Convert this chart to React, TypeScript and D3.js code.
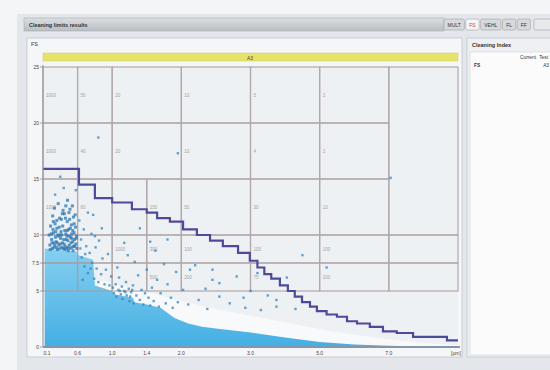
import { useRef, useEffect } from 'react';
import * as d3 from 'd3';

// x is drawn on a class position axis; labels are the size class bounds
const xTickPos = [0, 1, 2, 3, 4, 6, 8, 10];
const xTickLabels = ['0.1', '0.6', '1.0', '1.4', '2.0', '3.0', '5.0', '7.0'];
const yTicks = [0, 5, 7.5, 10, 15, 20, 25];
const yTickLabels = ['0', '5', '7.5', '10', '15', '20', '25'];

// limit grid: value bands and their class boundaries
const bandLow = [20, 15, 10, 7.5, 5];
const bandHigh = [25, 20, 15, 10, 7.5];
const bandCols = [
  [0, 1, 2, 4, 6, 8, 10],
  [0, 1, 2, 4, 6, 8, 10],
  [0, 1, 2, 3, 4, 6, 8, 10],
  [0, 1, 2, 3, 4, 6, 8, 10, 12],
  [0, 1, 2, 3, 4, 6, 8, 10, 12],
];
const bandLabels = [
  ['1000', '50', '20', '10', '5', '2'],
  ['1000', '40', '20', '10', '4', '2'],
  ['1000', '60', '', '150', '50', '30', '10'],
  ['', '', '1000', '300', '100', '100', '100', ''],
  ['', '', '', '500', '200', '75', '200', ''],
];

// stepped limit curve (class position, value)
const limitU = [0, 1.04, 1.5, 2.0, 2.57, 3.0, 3.3, 3.67, 4.05, 4.45, 4.83, 5.2, 5.64, 5.98, 6.2, 6.4, 6.6, 6.85, 7.08, 7.28, 7.49, 7.72, 7.92, 8.2, 8.5, 8.79, 9.08, 9.45, 9.83, 10.23, 10.7, 11.68, 12.0];
const limitV = [15.9, 14.5, 13.3, 12.9, 12.3, 12.0, 11.5, 11.2, 10.5, 10.0, 9.5, 9.0, 8.4, 7.7, 7.1, 6.5, 6.1, 5.5, 5.0, 4.5, 4.0, 3.6, 3.2, 2.9, 2.7, 2.3, 2.1, 1.8, 1.4, 1.25, 0.9, 0.6, 0.6];

// envelope of the dense measurement cloud
const fillU = [0.05, 1.0, 1.02, 1.45, 1.5, 2.0, 2.05, 2.6, 2.65, 3.0, 3.4, 3.8, 4.2, 4.6, 5.0, 6.0, 7.0, 8.0, 9.0, 10.0, 11.0, 12.0];
const fillV = [8.8, 8.5, 8.2, 7.8, 5.5, 5.0, 4.7, 4.4, 4.0, 3.8, 3.5, 2.6, 2.1, 1.8, 1.65, 1.3, 0.85, 0.45, 0.22, 0.12, 0.05, 0.02];

// faint halo above the cloud
const hazeU = [1.5, 2.0, 3.0, 4.0, 5.0, 6.0, 7.0, 8.0, 9.0, 10.0, 11.0, 12.0];
const hazeV = [6.0, 5.7, 4.9, 4.1, 3.4, 2.8, 2.2, 1.6, 1.1, 0.7, 0.35, 0.15];

// dense cluster of the smallest particles
const clusterDots: [number, number][] = [
  [0.2, 9.1], [0.25, 9.6], [0.3, 10.2], [0.32, 8.9], [0.35, 11.0], [0.38, 9.4], [0.4, 10.6], [0.42, 8.7],
  [0.45, 9.9], [0.48, 11.5], [0.5, 9.2], [0.52, 10.3], [0.55, 8.9], [0.57, 10.8], [0.6, 9.6], [0.62, 11.9],
  [0.64, 9.0], [0.66, 10.1], [0.68, 8.8], [0.7, 11.2], [0.72, 9.5], [0.74, 10.5], [0.76, 9.1], [0.78, 12.3],
  [0.8, 9.8], [0.82, 10.9], [0.84, 8.9], [0.86, 9.4], [0.88, 11.6], [0.9, 10.2], [0.92, 9.0], [0.94, 10.7],
  [0.96, 9.7], [0.98, 8.8], [0.22, 10.8], [0.28, 11.7], [0.33, 12.4], [0.44, 12.8], [0.58, 12.2], [0.71, 13.1],
  [0.85, 12.6], [0.27, 8.8], [0.36, 9.8], [0.47, 10.7], [0.53, 11.4], [0.63, 10.4], [0.69, 9.9], [0.77, 11.4],
  [0.83, 10.1], [0.93, 11.8], [0.18, 10.0], [0.41, 9.3], [0.59, 8.8], [0.73, 8.6], [0.87, 8.6], [0.97, 9.9],
  [0.31, 9.3], [0.49, 8.8], [0.65, 11.5], [0.79, 10.6],
  [0.21, 8.7], [0.26, 9.3], [0.29, 10.5], [0.34, 9.1], [0.37, 10.3], [0.39, 8.9], [0.43, 10.0], [0.46, 9.1],
  [0.51, 9.7], [0.54, 10.0], [0.56, 9.3], [0.61, 9.2], [0.63, 8.7], [0.67, 9.6], [0.7, 10.4], [0.72, 8.9],
  [0.75, 9.9], [0.78, 8.8], [0.81, 9.3], [0.83, 9.7], [0.86, 10.4], [0.89, 9.0], [0.91, 9.6], [0.95, 9.2],
  [0.24, 10.1], [0.3, 11.2], [0.4, 11.3], [0.5, 10.0], [0.56, 11.9], [0.66, 12.6], [0.75, 12.0], [0.9, 11.0],
];

// scattered larger particles
const dots: [number, number][] = [
  [0.5, 15.2], [0.6, 14.2], [0.35, 13.6], [1.6, 18.7], [3.9, 17.3], [10.05, 15.1], [0.95, 14.0],
  [1.05, 11.3], [1.1, 9.6], [1.12, 8.0], [1.18, 10.5], [1.2, 7.2], [1.25, 9.0], [1.3, 6.6], [1.35, 8.4],
  [1.4, 10.1], [1.42, 7.5], [1.48, 6.1], [1.52, 8.9], [1.55, 7.0], [1.6, 5.8], [1.62, 9.5], [1.68, 6.5],
  [1.72, 7.9], [1.78, 5.6], [1.82, 6.9], [1.88, 8.3], [1.92, 5.5], [1.97, 6.3], [1.15, 6.0], [1.45, 11.8],
  [1.7, 10.6], [1.3, 12.0], [1.08, 8.8], [1.22, 8.3], [1.38, 7.0], [1.5, 9.9],
  [2.02, 5.3], [2.05, 4.8], [2.1, 5.6], [2.12, 4.5], [2.18, 5.1], [2.2, 6.2], [2.25, 4.7], [2.28, 5.4],
  [2.3, 4.3], [2.35, 5.0], [2.4, 5.8], [2.42, 4.6], [2.48, 5.2], [2.5, 4.1], [2.55, 4.9], [2.6, 5.5],
  [2.62, 3.9], [2.7, 4.6], [2.75, 6.4], [2.8, 4.2], [2.85, 5.1], [2.9, 3.8], [2.95, 4.8], [3.0, 6.9],
  [3.05, 4.4], [3.1, 3.7], [3.15, 5.3], [3.2, 4.1], [3.3, 6.0], [3.35, 3.6], [3.4, 4.8], [3.5, 7.4],
  [3.55, 3.9], [3.6, 5.6], [3.7, 4.4], [3.75, 3.5], [3.85, 6.7], [3.9, 4.0], [2.15, 7.1], [2.45, 8.2],
  [2.65, 7.6], [3.25, 8.6], [2.35, 9.3], [3.6, 9.6], [3.1, 9.4], [2.8, 10.6],
  [2.22, 5.0], [2.38, 4.9], [2.52, 4.5], [2.58, 5.1],
  [4.25, 6.9], [4.9, 6.9], [4.9, 6.0], [4.5, 4.2], [5.1, 4.5], [5.8, 4.4], [5.85, 3.5], [6.3, 3.3],
  [6.75, 4.2], [6.75, 3.6], [7.05, 6.2], [5.1, 5.7], [4.2, 3.8], [4.7, 5.2], [5.4, 3.9], [6.0, 5.0],
  [6.5, 4.6], [7.5, 8.2], [8.2, 7.1], [4.4, 7.3], [7.3, 3.4], [5.6, 6.3], [4.05, 5.1], [4.75, 3.4], [6.2, 6.6],
];

const buttons = ['MULT', 'FS', 'VEHL', 'FL', 'FF'];

const FONT = '"Liberation Sans", Arial, sans-serif';

export default function App() {
  const svgRef = useRef<SVGSVGElement>(null);

  useEffect(() => {
    if (!svgRef.current) return;
    const svg = d3.select(svgRef.current);
    svg.selectAll('*').remove();

    const W = 550, H = 370;
    svg.attr('width', W).attr('height', H).style('font-family', FONT);

    const x = d3.scaleLinear().domain([0, 12]).range([43, 458]);
    const y = d3.scaleLinear().domain([0, 25]).range([347, 67]);

    const defs = svg.append('defs');
    const grad = defs.append('linearGradient').attr('id', 'cloud').attr('x1', 0).attr('y1', 0).attr('x2', 0).attr('y2', 1);
    grad.append('stop').attr('offset', '0%').attr('stop-color', '#86cff0');
    grad.append('stop').attr('offset', '100%').attr('stop-color', '#45afe3');
    const bar = defs.append('linearGradient').attr('id', 'bar').attr('x1', 0).attr('y1', 0).attr('x2', 0).attr('y2', 1);
    bar.append('stop').attr('offset', '0%').attr('stop-color', '#dcdee1');
    bar.append('stop').attr('offset', '100%').attr('stop-color', '#b9bdc2');

    // window
    svg.append('rect').attr('width', W).attr('height', H).attr('fill', '#f4f5f7');
    svg.append('rect').attr('x', 17).attr('y', 14).attr('width', W - 17).attr('height', H - 14).attr('fill', '#e3e6ea');

    // title bar
    svg.append('rect').attr('x', 24).attr('y', 18).attr('width', 420).attr('height', 13).attr('fill', 'url(#bar)').attr('stroke', '#a9adb2').attr('stroke-width', 0.6);
    svg.append('text').attr('x', 29).attr('y', 27).attr('font-size', 5.5).attr('font-weight', 'bold').attr('fill', '#333').text('Cleaning limits results');

    let bx = 444;
    buttons.forEach((b, i) => {
      const bw = b.length * 3.6 + 6;
      svg.append('rect').attr('x', bx).attr('y', 19).attr('width', bw).attr('height', 11).attr('rx', 1.5)
        .attr('fill', i === 1 ? '#f6f6f6' : '#d7d9dc').attr('stroke', '#9ea2a7').attr('stroke-width', 0.6);
      svg.append('text').attr('x', bx + bw / 2).attr('y', 27).attr('text-anchor', 'middle').attr('font-size', 5)
        .attr('fill', i === 1 ? '#d9302f' : '#333').text(b);
      bx += bw + 1.5;
    });
    svg.append('rect').attr('x', 534).attr('y', 19).attr('width', 18).attr('height', 11).attr('rx', 1.5)
      .attr('fill', '#e8e9eb').attr('stroke', '#9ea2a7').attr('stroke-width', 0.6);

    // main panel
    svg.append('rect').attr('x', 27).attr('y', 38).attr('width', 435).attr('height', 319).attr('fill', '#f5f6f8').attr('stroke', '#c4c8cd').attr('stroke-width', 0.8);
    svg.append('text').attr('x', 31).attr('y', 46).attr('font-size', 5.5).attr('fill', '#333').text('FS');
    svg.append('rect').attr('x', 43).attr('y', 53).attr('width', 415).attr('height', 8).attr('fill', '#e6e36b').attr('stroke', '#cfcb63').attr('stroke-width', 0.5);
    svg.append('text').attr('x', 250).attr('y', 59.5).attr('text-anchor', 'middle').attr('font-size', 5).attr('fill', '#444').text('A3');

    // right panel
    svg.append('rect').attr('x', 467).attr('y', 38).attr('width', 85).attr('height', 319).attr('fill', '#eef0f3').attr('stroke', '#c4c8cd').attr('stroke-width', 0.8);
    svg.append('text').attr('x', 472).attr('y', 47).attr('font-size', 5.5).attr('font-weight', 'bold').attr('fill', '#333').text('Cleaning Index');
    svg.append('rect').attr('x', 470).attr('y', 52).attr('width', 82).attr('height', 303).attr('fill', '#fbfbfc').attr('stroke', '#cfd2d6').attr('stroke-width', 0.6);
    svg.append('text').attr('x', 536).attr('y', 59).attr('text-anchor', 'end').attr('font-size', 4.8).attr('fill', '#333').text('Current');
    svg.append('text').attr('x', 548).attr('y', 59).attr('text-anchor', 'end').attr('font-size', 4.8).attr('fill', '#333').text('Test');
    svg.append('text').attr('x', 474).attr('y', 67).attr('font-size', 4.8).attr('font-weight', 'bold').attr('fill', '#333').text('FS');
    svg.append('text').attr('x', 549).attr('y', 67).attr('text-anchor', 'end').attr('font-size', 4.8).attr('fill', '#333').text('A3');

    // plot background
    svg.append('rect').attr('x', x(0)).attr('y', y(25)).attr('width', x(12) - x(0)).attr('height', y(0) - y(25)).attr('fill', '#eef1f4');

    // haze + cloud
    const hazeArea = d3.area<number>().x((_, i) => x(hazeU[i])).y0(y(0)).y1(d => y(d)).curve(d3.curveMonotoneX);
    svg.append('path').attr('d', hazeArea(hazeV)).attr('fill', '#ffffff').attr('opacity', 0.55);

    const cloudArea = d3.area<number>().x((_, i) => x(fillU[i])).y0(y(0)).y1(d => y(d)).curve(d3.curveLinear);
    svg.append('path').attr('d', cloudArea(fillV)).attr('fill', 'url(#cloud)');

    // limit grid
    const grid = svg.append('g').attr('fill', 'none').attr('stroke', '#a89c9c').attr('stroke-width', 1.2).attr('opacity', 0.85);
    bandLow.forEach((lo, r) => {
      const hi = bandHigh[r];
      const cols = bandCols[r];
      for (let c = 0; c < cols.length - 1; c++) {
        grid.append('rect').attr('x', x(cols[c])).attr('y', y(hi)).attr('width', x(cols[c + 1]) - x(cols[c])).attr('height', y(lo) - y(hi));
        const lab = bandLabels[r][c];
        if (lab) {
          svg.append('text').attr('x', x(cols[c]) + 3).attr('y', (y(lo) + y(hi)) / 2 + 2)
            .attr('font-size', 4.5).attr('fill', '#a3a3a6').text(lab);
        }
      }
    });
    grid.append('rect').attr('x', x(10)).attr('y', y(25)).attr('width', x(12) - x(10)).attr('height', y(10) - y(25));

    // measurement dots
    svg.append('g').selectAll('rect').data(clusterDots).enter().append('rect')
      .attr('x', d => x(d[0]) - 1.5).attr('y', d => y(d[1]) - 1.5)
      .attr('width', 3).attr('height', 3)
      .attr('fill', '#2a76b3').attr('opacity', 0.75);
    svg.append('g').selectAll('rect').data(dots).enter().append('rect')
      .attr('x', d => x(d[0]) - 1.2).attr('y', d => y(d[1]) - 1.2)
      .attr('width', 2.4).attr('height', 2.4)
      .attr('fill', '#3584bf').attr('opacity', 0.75);

    // limit step line
    const limitLine = d3.line<number>().x((_, i) => x(limitU[i])).y(d => y(d)).curve(d3.curveStepAfter);
    svg.append('path').attr('d', limitLine(limitV)).attr('fill', 'none').attr('stroke', '#4d4a99').attr('stroke-width', 2.2);

    // axes
    svg.append('line').attr('x1', x(0)).attr('x2', x(0)).attr('y1', y(25) - 2).attr('y2', y(0)).attr('stroke', '#8e9196').attr('stroke-width', 1);
    svg.append('line').attr('x1', x(0)).attr('x2', x(12) + 2).attr('y1', y(0)).attr('y2', y(0)).attr('stroke', '#8596ab').attr('stroke-width', 2);

    yTicks.forEach((t, i) => {
      svg.append('line').attr('x1', x(0) - 3).attr('x2', x(0)).attr('y1', y(t)).attr('y2', y(t)).attr('stroke', '#8e9196').attr('stroke-width', 0.8);
      svg.append('text').attr('x', x(0) - 4).attr('y', y(t) + 2).attr('text-anchor', 'end')
        .attr('font-size', 5).attr('fill', '#444').text(yTickLabels[i]);
    });
    xTickPos.forEach((t, i) => {
      svg.append('text').attr('x', x(t) + (i === 0 ? 4 : 0)).attr('y', 355).attr('text-anchor', 'middle')
        .attr('font-size', 5).attr('fill', '#444').text(xTickLabels[i]);
    });
    svg.append('text').attr('x', x(12) - 2).attr('y', 355).attr('text-anchor', 'middle')
      .attr('font-size', 5).attr('fill', '#444').text('[µm]');
  }, []);

  return (
    <div style={{ position: 'absolute', left: 0, top: 0 }}>
      <svg ref={svgRef} role="img" aria-label="Cleaning limits results chart" style={{ display: 'block' }} />
    </div>
  );
}
